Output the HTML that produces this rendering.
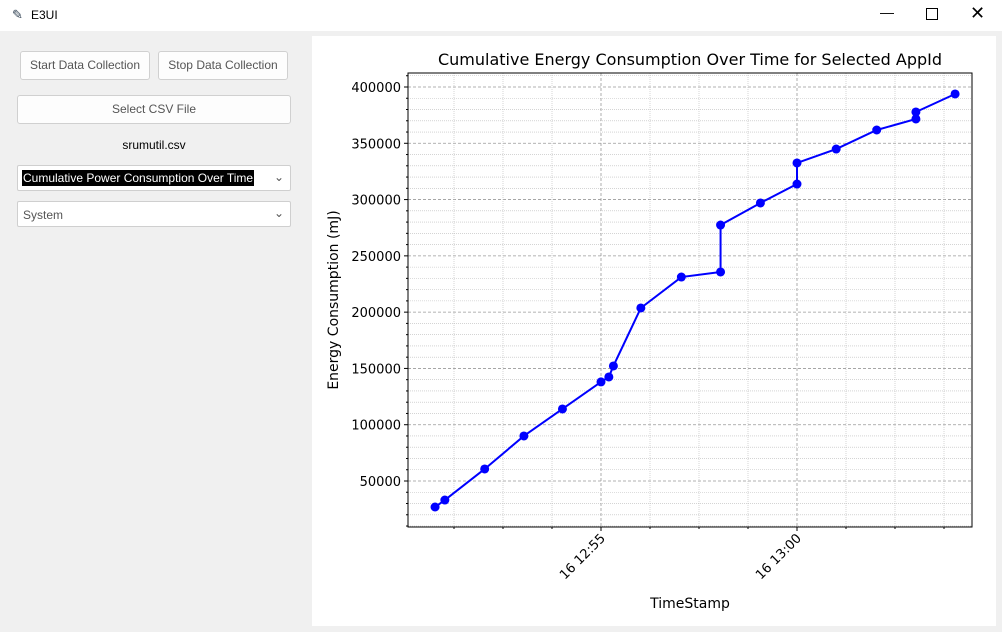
<!DOCTYPE html>
<html><head><meta charset="utf-8"><style>
body{margin:0;width:1002px;height:632px;background:#f0f0f0;font-family:"Liberation Sans",sans-serif;position:relative;overflow:hidden}
.abs{position:absolute;box-sizing:border-box}
.btn{background:#fdfdfd;border:1px solid #d0d0d0;border-radius:3px;font-size:12px;color:#555;text-align:center;line-height:26px}
.combo{background:#fff;border:1px solid #cfcfcf;border-radius:2px;font-size:12px}
#chart text{font-family:"DejaVu Sans",sans-serif}
</style></head><body>
<div class="abs" style="left:0;top:0;width:1002px;height:31px;background:#fff">
<span style="position:absolute;left:12px;top:7px;font-size:13px;color:#345">✎</span>
<span style="position:absolute;left:31px;top:8px;font-size:12px">E3UI</span>
<span style="position:absolute;left:880px;top:4px;font-size:14px">—</span>
<span style="position:absolute;left:926px;top:8px;width:10px;height:10px;border:1px solid #000"></span>
<span style="position:absolute;left:970px;top:3px;font-size:18px">✕</span>
</div>
<div class="abs btn" style="left:20px;top:51px;width:130px;height:29px">Start Data Collection</div>
<div class="abs btn" style="left:158px;top:51px;width:130px;height:29px">Stop Data Collection</div>
<div class="abs btn" style="left:17px;top:95px;width:274px;height:29px">Select CSV File</div>
<div class="abs" style="left:17px;top:138px;width:274px;text-align:center;font-size:12px">srumutil.csv</div>
<div class="abs combo" style="left:17px;top:165px;width:274px;height:26px">
<span style="position:absolute;left:4px;top:4px;background:#000;color:#fff;padding:0 1px;line-height:16px">Cumulative Power Consumption Over Time</span>
<span style="position:absolute;right:6px;top:4px;color:#555">⌄</span></div>
<div class="abs combo" style="left:17px;top:201px;width:274px;height:26px">
<span style="position:absolute;left:5px;top:6px;color:#555">System</span>
<span style="position:absolute;right:6px;top:4px;color:#555">⌄</span></div>
<div class="abs" style="left:312px;top:36px;width:684px;height:590px;background:#fff"></div>
<svg class="abs" style="left:0;top:0" width="1002" height="632" id="chart"></svg>
<script>
const times=["12:50:46","12:51:01","12:52:02","12:53:02","12:54:01","12:55:00","12:55:12","12:55:19","12:56:01","12:57:03","12:58:03","12:58:03","12:59:04","13:00:00","13:00:00","13:01:00","13:02:02","13:03:02","13:03:02","13:04:02"];
const values=[26900,33100,60700,90000,114000,138000,142400,152200,203700,231200,235700,277400,297000,313800,332500,344900,361800,371600,377800,393800];
const yTicks=[50000,100000,150000,200000,250000,300000,350000,400000];
const xTickLabels=["16 12:55","16 13:00"];
const xTickTimes=["12:55:00","13:00:00"];
const NS="http://www.w3.org/2000/svg";
const svg=document.getElementById('chart');
const L=408,R=972,T=73,B=527;
function sec(t){const p=t.split(':').map(Number);return p[0]*3600+p[1]*60+p[2];}
const t0=sec("12:55:00");
function X(t){return 601+(sec(t)-t0)/60*39.2;}
function Xs(s){return 601+(s-t0)/60*39.2;}
function Y(v){return 481-(v-50000)*394/350000;}
function mk(tag,a){const e=document.createElementNS(NS,tag);for(const k in a)e.setAttribute(k,a[k]);svg.appendChild(e);return e;}
for(let v=10000;v<=410000;v+=10000){const y=Y(v);if(y<T||y>B)continue;
const major=v%50000===0;
const g=mk('line',{x1:L,x2:R,y1:y,y2:y,stroke:major?'#999':'#bbb','stroke-width':major?0.8:0.6,'stroke-dasharray':major?'3,2':'1,1'});


const tk=mk('line',{x1:L-(major?4:2),x2:L,y1:y,y2:y,stroke:'#000'});

}
for(let s=t0-75*6;s<=t0+75*12;s+=75){const x=Xs(s);if(x<L||x>R)continue;
const major=(s-t0)%300===0;
const g=mk('line',{x1:x,x2:x,y1:T,y2:B,stroke:major?'#999':'#bbb','stroke-width':major?0.8:0.6,'stroke-dasharray':major?'3,2':'1,1'});


const tk=mk('line',{x1:x,x2:x,y1:B,y2:B+(major?4:2),stroke:'#000'});

}
yTicks.forEach(v=>{const t=mk('text',{x:L-7,y:Y(v)+5,'text-anchor':'end','font-size':13,fill:'#000'});t.textContent=v;

});
xTickLabels.forEach((lab,i)=>{const x=X(xTickTimes[i]);const t=mk('text',{x:x+5,y:B+12,'text-anchor':'end','font-size':13,fill:'#000',transform:`rotate(-45 ${x+5} ${B+12})`});t.textContent=lab;

});
const fr=mk('rect',{x:L,y:T,width:R-L,height:B-T,fill:'none',stroke:'#000','stroke-width':1});


const pts=times.map((t,i)=>X(t)+','+Y(values[i])).join(' ');
const pl=mk('polyline',{points:pts,fill:'none',stroke:'#0000ff','stroke-width':2});


times.forEach((t,i)=>{const c=mk('circle',{cx:X(t),cy:Y(values[i]),r:4.5,fill:'#0000ff'});

});
const ti=mk('text',{x:(L+R)/2,y:65,'text-anchor':'middle','font-size':16,fill:'#000'});ti.textContent='Cumulative Energy Consumption Over Time for Selected AppId';


const xl=mk('text',{x:(L+R)/2,y:608,'text-anchor':'middle','font-size':14,fill:'#000'});xl.textContent='TimeStamp';


const yl=mk('text',{x:338,y:300,'text-anchor':'middle','font-size':14,fill:'#000',transform:'rotate(-90 338 300)'});yl.textContent='Energy Consumption (mJ)';


</script>
</body></html>
